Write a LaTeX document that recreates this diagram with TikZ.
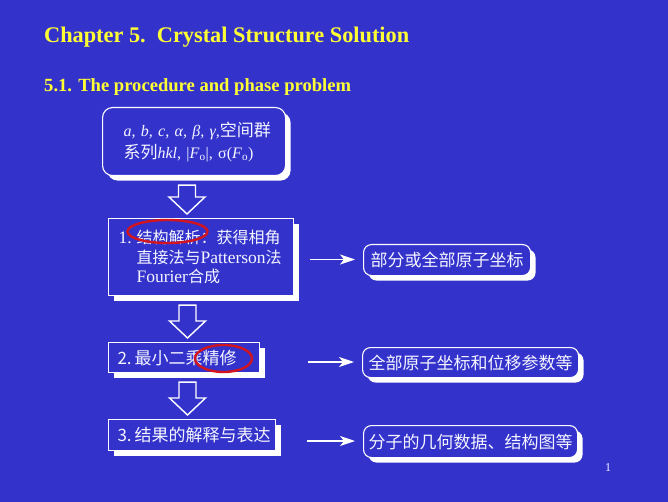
\documentclass[tikz,border=0pt]{standalone}
\usepackage{fontspec}
\setmainfont{Liberation Serif}
\newfontfamily\cjk{Noto Sans CJK SC}
\usetikzlibrary{calc,shadows,arrows.meta,shapes.geometric}
\definecolor{bg}{RGB}{51,51,204}
\definecolor{ttl}{RGB}{255,255,51}
\definecolor{txt}{RGB}{245,245,255}
\definecolor{ring}{RGB}{210,20,30}
\newcommand\fsz[2]{\fontsize{#1}{#2}\selectfont}
\newcommand\blockarrow[3]{%
  \draw[blk] let \p1=(#2.south), \p2=(#3.north) in
    (#1-8.5pt,\y1-9pt) -- (#1+8.5pt,\y1-9pt) -- (#1+8.5pt,\y2+21pt)
    -- (#1+18pt,\y2+21pt) -- (#1,\y2+4pt) -- (#1-18pt,\y2+21pt)
    -- (#1-8.5pt,\y2+21pt) -- cycle;}
\begin{document}
\begin{tikzpicture}[x=1pt,y=-1pt,
  box/.style={draw=white, line width=1.1pt, fill=bg, text=txt, anchor=north west,
    align=left, inner ysep=0pt,
    general shadow={fill=white, shadow xshift=5pt, shadow yshift=-5pt}},
  rbox/.style={box, rounded corners=8pt, align=center, inner xsep=0pt},
  blk/.style={draw=white, line width=1.4pt, fill=bg},
  rarr/.style={draw=white, line width=1.3pt, -{Stealth[length=15pt,width=10pt,inset=4pt]}, shorten >=8pt},
  ringst/.style={ellipse, draw=ring, line width=2.4pt, inner sep=0pt}]
\fill[bg] (0,0) rectangle (668,502);
\useasboundingbox (0,0) rectangle (668,502);

\node[anchor=base west, text=ttl, font=\bfseries\fsz{22.3}{26}, inner sep=0pt] (title) at (44,43)
  {Chapter 5.\ \ Crystal Structure Solution};
\node[anchor=base west, text=ttl, font=\bfseries\fsz{18.6}{22}, inner sep=0pt] (sub) at (44,92)
  {5.1. The procedure and phase problem};

\node[box, rounded corners=10pt, minimum width=183pt, minimum height=68pt,
  inner xsep=21pt, text width=141pt, font=\fsz{16}{22}] (b0) at (102,107)
  {\mbox{\textit{a, b, c, α, β, γ,}{\fsz{17}{22}\cjk 空间群}}\\
   \mbox{{\fsz{17}{22}\cjk 系列}\textit{hkl}, |\textit{F}\textsubscript{o}|, σ(\textit{F}\textsubscript{o})}};

\node[box, minimum width=185pt, minimum height=77pt, inner xsep=10pt, text width=165pt,
  font=\fsz{17.5}{19.5}] (b1) at (108,218)
  {\mbox{\makebox[18pt][l]{1.}{\fsz{16}{19.5}\cjk 结构解析：获得相角}}\\
   \mbox{\hspace*{18pt}{\fsz{16}{19.5}\cjk 直接法与}Patterson{\fsz{16}{19.5}\cjk 法}}\\
   \mbox{\hspace*{18pt}Fourier{\fsz{16}{19.5}\cjk 合成}}};

\node[box, minimum width=151pt, minimum height=30pt, inner xsep=9pt, text width=133pt,
  font=\fsz{17}{20}] (b2) at (108,342)
  {\mbox{\cjk 2.\,最小二乘精修}};

\node[box, minimum width=167pt, minimum height=31pt, inner xsep=9pt, text width=149pt,
  font=\fsz{17}{20}] (b3) at (108,419)
  {\mbox{\cjk 3.\,结果的解释与表达}};

\node[rbox, minimum width=167pt, minimum height=31pt, font=\fsz{17}{20}] (bA) at (363,244)
  {{\cjk 部分或全部原子坐标}};
\node[rbox, minimum width=216pt, minimum height=30pt, font=\fsz{17}{20}] (bB) at (362,347)
  {{\cjk 全部原子坐标和位移参数等}};
\node[rbox, minimum width=214pt, minimum height=32pt, font=\fsz{17}{20}] (bC) at (363,425)
  {{\cjk 分子的几何数据、结构图等}};

\blockarrow{187pt}{b0}{b1}
\blockarrow{187.5pt}{b1}{b2}
\blockarrow{187.5pt}{b2}{b3}

\coordinate (s1) at (310,259.5);
\coordinate (s2) at (308,362);
\coordinate (s3) at (307,441);
\draw[rarr] (s1) -- (s1 -| bA.west);
\draw[rarr] (s2) -- (s2 -| bB.west);
\draw[rarr] (s3) -- (s3 -| bC.west);

\node[ringst, minimum width=80pt, minimum height=23pt] (e1) at (167.5,231.5) {};
\node[ringst, minimum width=57pt, minimum height=27pt] (e2) at (223.5,358.5) {};

\node[text=txt, font=\fsz{12}{14}, inner sep=0pt] (pg) at (608,468) {1};
\end{tikzpicture}
\end{document}
